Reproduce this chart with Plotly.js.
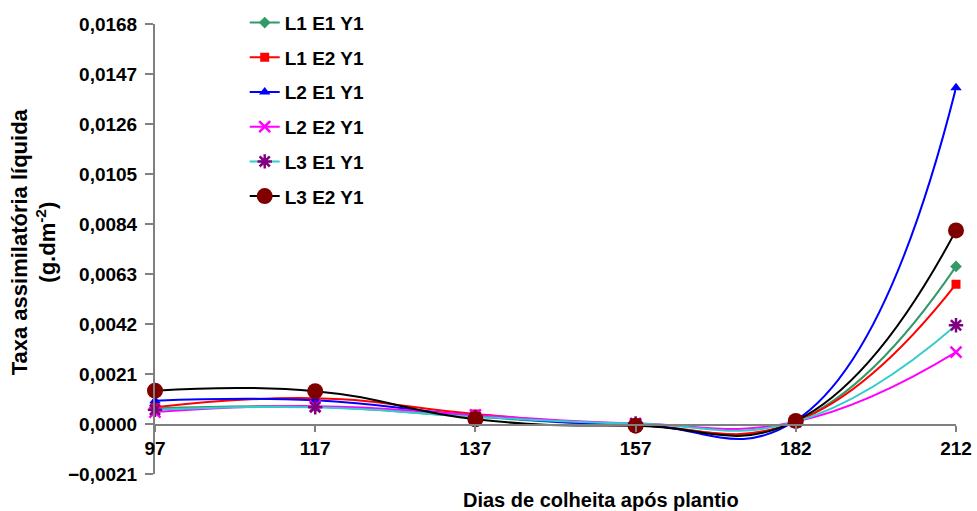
<!DOCTYPE html>
<html><head><meta charset="utf-8">
<script src="https://cdn.plot.ly/plotly-3.0.1.min.js"></script>
<style>html,body{margin:0;padding:0;background:#fff}#c{width:977px;height:511px}</style>
</head><body><div id="c"></div>
<script>
const days = ['97','117','137','157','182','212'];
const names = ['L1 E1 Y1','L1 E2 Y1','L2 E1 Y1','L2 E2 Y1','L3 E1 Y1','L3 E2 Y1'];
const L1E1 = [0.00065, 0.00072, 0.00030, -0.00005, 0.00010, 0.00662];
const L1E2 = [0.00070, 0.00108, 0.00042, -0.00005, 0.00010, 0.00587];
const L2E1 = [0.00098, 0.00100, 0.00035, -0.00002, 0.00015, 0.01412];
const L2E2 = [0.00050, 0.00075, 0.00038, 0.00002, 0.00010, 0.00302];
const L3E1 = [0.00060, 0.00070, 0.00030, 0.00002, 0.00010, 0.00415];
const L3E2 = [0.00140, 0.00138, 0.00020, -0.00007, 0.00013, 0.00813];
const yTicks = [-0.0021, 0, 0.0021, 0.0042, 0.0063, 0.0084, 0.0105, 0.0126, 0.0147, 0.0168];

const series = [L1E1, L1E2, L2E1, L2E2, L3E1, L3E2];
const lineColors = ['#339966','#ff0000','#0000ff','#ff00ff','#33cccc','#000000'];
const markerColors = ['#339966','#ff0000','#0000ff','#ff00ff','#800080','#800000'];
const symbols = ['diamond','square','triangle-up','x-thin-open','asterisk-open','circle'];
const sizes = [9, 9, 10, 11, 12, 16];

const traces = series.map((v, i) => ({
  x: days, y: v, name: names[i], type: 'scatter', mode: 'lines+markers',
  legendgroup: 'g' + i, cliponaxis: false,
  line: {color: lineColors[i], width: 2, shape: 'spline', smoothing: 1.3},
  marker: {color: markerColors[i], symbol: symbols[i], size: sizes[i],
           line: {color: markerColors[i], width: (i === 3 || i === 4) ? 2.5 : 0}}
}));

const F = 'Arial, "Liberation Sans", sans-serif';
const layout = {
  width: 977, height: 511,
  margin: {l: 155, r: 21, t: 24, b: 37, autoexpand: false},
  paper_bgcolor: '#fff', plot_bgcolor: '#fff',
  separators: ',.',
  font: {family: F, size: 20, color: '#000'},
  showlegend: true,
  legend: {x: 0.112, y: 1.045, xanchor: 'left', yanchor: 'top', bgcolor: 'rgba(0,0,0,0)',
           font: {family: F, size: 19, color: '#000', weight: 'bold'}, tracegroupgap: 7},
  xaxis: {type: 'category', range: [0, 5], anchor: 'free', position: 0.1089,
          showline: true, linecolor: '#808080', linewidth: 2, ticks: 'outside', ticklen: 6,
          tickcolor: '#808080', tickwidth: 1.5, showgrid: false, zeroline: false,
          tickfont: {family: F, size: 19, weight: 'bold'}},
  yaxis: {range: [-0.0021, 0.0168], tickvals: yTicks, tickformat: '.4f',
          showline: true, linecolor: '#808080', linewidth: 2, ticks: 'outside', ticklen: 8,
          tickcolor: '#808080', tickwidth: 1.5, showgrid: false, zeroline: false,
          ticklabelstandoff: 4,
          tickfont: {family: F, size: 19, weight: 'bold'}},
  annotations: [
    {text: '<b>Dias de colheita após plantio</b>', xref: 'paper', yref: 'paper', x: 0.557, y: -0.058,
     xanchor: 'center', yanchor: 'middle', showarrow: false, font: {family: F, size: 20}},
    {text: '<b>Taxa assimilatória líquida</b><br><b>(g.dm<sup>-2</sup>)</b>', xref: 'paper', yref: 'paper',
     x: -0.151, y: 0.515, xanchor: 'center', yanchor: 'middle', textangle: -90, showarrow: false,
     font: {family: F, size: 22}}
  ]
};
Plotly.newPlot('c', traces, layout, {displayModeBar: false});
</script></body></html>
